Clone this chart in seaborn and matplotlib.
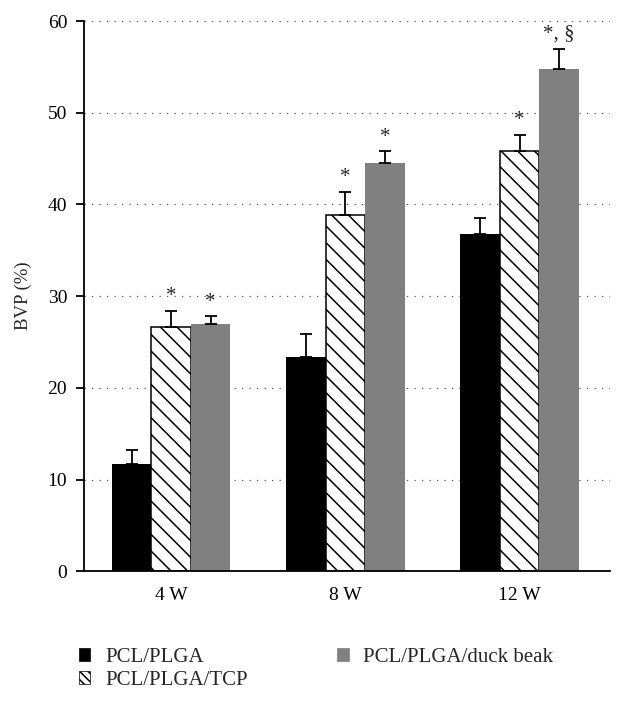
import pandas as pd
import seaborn as sns
import matplotlib.pyplot as plt
from matplotlib.patches import Patch

# values
weeks = ["4 W", "8 W", "12 W"]
groups = ["PCL/PLGA", "PCL/PLGA/TCP", "PCL/PLGA/duck beak"]
bvp_plga = [11.7, 23.4, 36.8]
bvp_tcp = [26.6, 38.8, 45.8]
bvp_duck = [27.0, 44.5, 54.8]
sd_plga = [1.5, 2.5, 1.7]
sd_tcp = [1.8, 2.6, 1.8]
sd_duck = [0.8, 1.3, 2.2]
marks_tcp = ["*", "*", "*"]
marks_duck = ["*", "*", "*, §"]

colors = ["#000000", "#ffffff", "#808080"]
hatches = ["", "\\\\", ""]

df = pd.DataFrame({
    "week": weeks * 3,
    "group": [g for g in groups for _ in weeks],
    "bvp": bvp_plga + bvp_tcp + bvp_duck,
})
errs = [sd_plga, sd_tcp, sd_duck]
marks = [None, marks_tcp, marks_duck]

sns.set_style("white")
plt.rcParams["font.family"] = ["Liberation Serif", "DejaVu Serif"]
plt.rcParams["hatch.linewidth"] = 1.1

fig = plt.figure(figsize=(6.17, 7.01), dpi=100)
ax = fig.add_axes([0.136, 0.185, 0.853, 0.785])

sns.barplot(data=df, x="week", y="bvp", hue="group", order=weeks,
            hue_order=groups, palette=colors, width=0.68, errorbar=None,
            saturation=1, legend=False, ax=ax)

bar_sets = list(ax.containers)  # snapshot before errorbar adds containers
for i, cont in enumerate(bar_sets):
    for j, bar in enumerate(cont):
        bar.set_hatch(hatches[i])
        bar.set_edgecolor("black" if i < 2 else "#808080")
        bar.set_linewidth(1.1 if i == 1 else 0)
        cx = bar.get_x() + bar.get_width() / 2
        top = bar.get_height()
        ax.errorbar(cx, top, yerr=[[0], [errs[i][j]]], fmt="none",
                    ecolor="black", elinewidth=1.3, capsize=4, capthick=1.3)
        if marks[i] is not None:
            ax.text(cx, top + errs[i][j] + 0.5, marks[i][j], ha="center",
                    va="bottom", fontsize=15)

ax.set_ylim(0, 60)
ax.set_xlim(-0.5, 2.52)
ax.set_yticks(range(0, 61, 10))
ax.yaxis.grid(True, linestyle=(0, (1, 5)), color="#555555", linewidth=0.9)
ax.set_axisbelow(True)
for side in ["top", "right"]:
    ax.spines[side].set_visible(False)
for side in ["left", "bottom"]:
    ax.spines[side].set_color("black")
    ax.spines[side].set_linewidth(1.3)
ax.tick_params(axis="y", left=True, length=6, width=1.3, labelsize=14,
               colors="black", pad=6)
ax.tick_params(axis="x", bottom=False, labelsize=14, pad=8, colors="black")
ax.set_xlabel("")
ax.set_ylabel("BVP (%)", fontsize=13.5, labelpad=11)

handles = [Patch(facecolor=colors[k], edgecolor="black" if k < 2 else "#808080",
                 hatch=hatches[k] * 2, linewidth=0.5, label=groups[k])
           for k in range(3)]
fig.legend(handles=handles, loc="upper left", bbox_to_anchor=(0.128, 0.076),
           ncol=2, frameon=False, fontsize=15, handlelength=0.55,
           handleheight=0.55, handletextpad=0.7, columnspacing=4.3,
           labelspacing=0.2, borderaxespad=0, borderpad=0)

fig.savefig("out.png", dpi=100)
